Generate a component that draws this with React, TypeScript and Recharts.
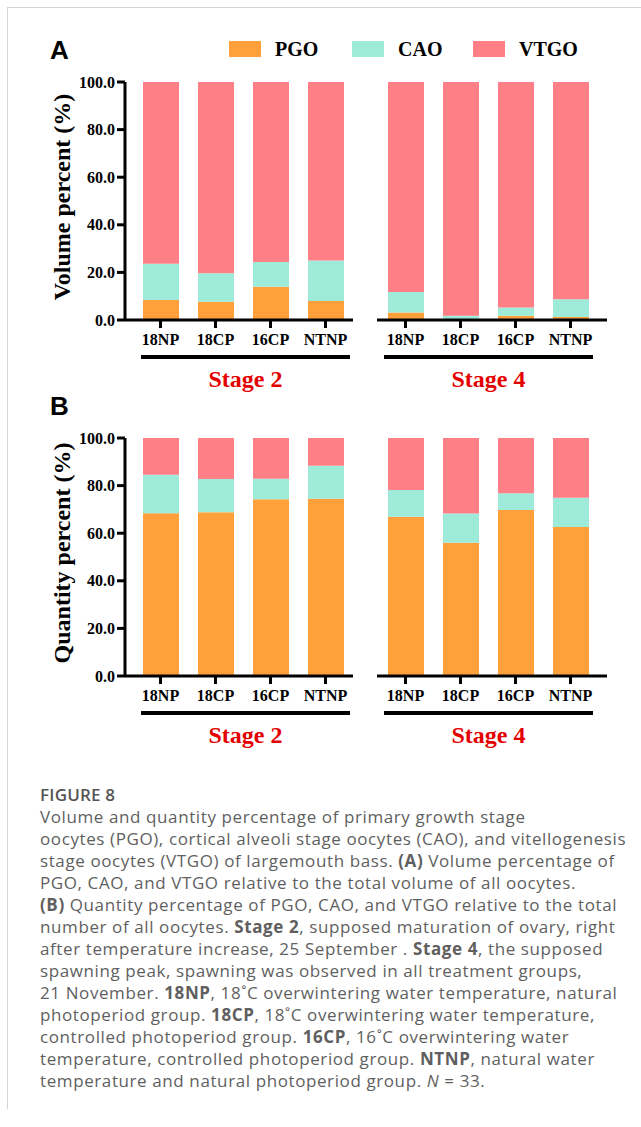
import React from "react"
import { BarChart, Bar, XAxis, YAxis } from "recharts"

const groups = ["18NP", "18CP", "16CP", "NTNP"]
const seriesNames = ["PGO", "CAO", "VTGO"]
const seriesColors = ["#ffa03b", "#9debd8", "#ff7f86"]
const yTicks = [0, 20, 40, 60, 80, 100]
const stageNames = ["Stage 2", "Stage 4"]

// volume percent (panel A)
const volumeStage2PGO = [8.4, 7.7, 14.0, 8.0]
const volumeStage2CAO = [15.2, 11.9, 10.4, 17.0]
const volumeStage2VTGO = [76.4, 80.4, 75.6, 75.0]
const volumeStage4PGO = [3.1, 0.3, 1.8, 1.3]
const volumeStage4CAO = [8.7, 1.5, 3.4, 7.4]
const volumeStage4VTGO = [88.2, 98.2, 94.8, 91.3]

// quantity percent (panel B)
const quantityStage2PGO = [68.4, 68.8, 74.3, 74.5]
const quantityStage2CAO = [16.2, 14.0, 8.6, 13.8]
const quantityStage2VTGO = [15.4, 17.2, 17.1, 11.7]
const quantityStage4PGO = [66.9, 56.0, 69.8, 62.6]
const quantityStage4CAO = [11.3, 12.3, 7.0, 12.3]
const quantityStage4VTGO = [21.8, 31.7, 23.2, 25.1]

const makeRows = (pgo: number[], cao: number[], vtgo: number[]) =>
  groups.map((g, i) => ({ group: g, PGO: pgo[i], CAO: cao[i], VTGO: vtgo[i] }))

const serif = "'Liberation Serif', 'Times New Roman', serif"
const axisStroke = { stroke: "#000", strokeWidth: 3 }
const tickFont = { fontFamily: serif, fontWeight: 700, fontSize: 16, fill: "#000" }

type StageProps = {
  rows: any[]
  showY: boolean
  left: number
  top: number
}

function StageChart({ rows, showY, left, top }: StageProps) {
  const width = showY ? 320 : 245
  const margin = showY
    ? { top: 12, right: 7, left: 0, bottom: 0 }
    : { top: 12, right: 8, left: 7, bottom: 0 }
  const padding = showY ? { left: 8, right: 0 } : { left: 1, right: 9 }
  return (
    <div style={{ position: "absolute", left, top }}>
      <BarChart width={width} height={280} data={rows} margin={margin} barSize={36}>
        <XAxis
          dataKey="group"
          interval={0}
          height={30}
          padding={padding}
          axisLine={axisStroke}
          tickLine={axisStroke}
          tickSize={8}
          tickMargin={6}
          tick={tickFont}
        />
        <YAxis
          hide={!showY}
          width={85}
          domain={[0, 100]}
          allowDataOverflow
          ticks={yTicks}
          tickFormatter={(v: number) => v.toFixed(1)}
          axisLine={axisStroke}
          tickLine={axisStroke}
          tickSize={8}
          tickMargin={2}
          tick={tickFont}
        />
        {seriesNames.map((s, i) => (
          <Bar key={s} dataKey={s} stackId="a" fill={seriesColors[i]} isAnimationActive={false} />
        ))}
      </BarChart>
    </div>
  )
}

function Panel({
  letter,
  yLabel,
  plotTop,
  stage2,
  stage4,
}: {
  letter: string
  yLabel: string
  plotTop: number
  stage2: any[]
  stage4: any[]
}) {
  const lineY = plotTop + 275
  return (
    <>
      <div
        style={{
          position: "absolute",
          left: 50,
          top: plotTop - 45,
          fontFamily: "'Liberation Sans', Arial, sans-serif",
          fontWeight: 700,
          fontSize: 26,
          lineHeight: "26px",
        }}
      >
        {letter}
      </div>
      <div
        style={{
          position: "absolute",
          left: 62 - 130,
          top: plotTop + 115 - 14,
          width: 260,
          height: 28,
          lineHeight: "28px",
          textAlign: "center",
          transform: "rotate(-90deg)",
          fontFamily: serif,
          fontWeight: 700,
          fontSize: 24,
          whiteSpace: "nowrap",
        }}
      >
        {yLabel}
      </div>
      <StageChart rows={stage2} showY left={40} top={plotTop - 12} />
      <StageChart rows={stage4} showY={false} left={370} top={plotTop - 12} />
      {[
        { x: 141, w: 209 },
        { x: 384, w: 209 },
      ].map((u, i) => (
        <React.Fragment key={i}>
          <div
            style={{
              position: "absolute",
              left: u.x,
              top: lineY - 2,
              width: u.w,
              height: 4,
              background: "#000",
            }}
          />
          <div
            style={{
              position: "absolute",
              left: u.x,
              width: u.w,
              top: lineY + 10,
              textAlign: "center",
              fontFamily: serif,
              fontWeight: 700,
              fontSize: 24,
              lineHeight: "24px",
              color: "#e50000",
            }}
          >
            {stageNames[i]}
          </div>
        </React.Fragment>
      ))}
    </>
  )
}

const captionLines: React.ReactNode[] = [
  "Volume and quantity percentage of primary growth stage",
  "oocytes (PGO), cortical alveoli stage oocytes (CAO), and vitellogenesis",
  <>stage oocytes (VTGO) of largemouth bass. <b>(A)</b> Volume percentage of</>,
  "PGO, CAO, and VTGO relative to the total volume of all oocytes.",
  <><b>(B)</b> Quantity percentage of PGO, CAO, and VTGO relative to the total</>,
  <>number of all oocytes. <b>Stage 2</b>, supposed maturation of ovary, right</>,
  <>after temperature increase, 25 September . <b>Stage 4</b>, the supposed</>,
  "spawning peak, spawning was observed in all treatment groups,",
  <>21 November. <b>18NP</b>, 18˚C overwintering water temperature, natural</>,
  <>photoperiod group. <b>18CP</b>, 18˚C overwintering water temperature,</>,
  <>controlled photoperiod group. <b>16CP</b>, 16˚C overwintering water</>,
  <>temperature, controlled photoperiod group. <b>NTNP</b>, natural water</>,
  <>temperature and natural photoperiod group. <i>N</i> = 33.</>,
]

export default function App() {
  return (
    <div style={{ position: "absolute", left: 0, top: 0, width: 641, height: 1127, background: "#fff", overflow: "hidden" }}>
      <div
        style={{
          position: "absolute",
          left: 7,
          top: 7,
          width: 700,
          height: 1101,
          borderTop: "1px solid #d4d4d4",
          borderLeft: "1px solid #d4d4d4",
        }}
      />
      {/* legend */}
      {seriesNames.map((s, i) => (
        <div
          key={s}
          style={{
            position: "absolute",
            left: [229, 352, 473][i],
            top: 39,
            display: "flex",
            alignItems: "center",
            height: 20,
          }}
        >
          <div style={{ width: 32, height: 16, background: seriesColors[i] }} />
          <span
            style={{
              marginLeft: 14,
              fontFamily: serif,
              fontWeight: 700,
              fontSize: 20,
            }}
          >
            {s}
          </span>
        </div>
      ))}
      <Panel
        letter="A"
        yLabel="Volume percent (%)"
        plotTop={82}
        stage2={makeRows(volumeStage2PGO, volumeStage2CAO, volumeStage2VTGO)}
        stage4={makeRows(volumeStage4PGO, volumeStage4CAO, volumeStage4VTGO)}
      />
      <Panel
        letter="B"
        yLabel="Quantity percent (%)"
        plotTop={438}
        stage2={makeRows(quantityStage2PGO, quantityStage2CAO, quantityStage2VTGO)}
        stage4={makeRows(quantityStage4PGO, quantityStage4CAO, quantityStage4VTGO)}
      />
      {/* caption */}
      <div
        style={{
          position: "absolute",
          left: 40,
          top: 784,
          fontFamily: "'Open Sans', sans-serif",
          fontSize: 17,
          letterSpacing: 0.6,
          lineHeight: "22px",
          color: "#5f5f5f",
          whiteSpace: "nowrap",
        }}
      >
        <div style={{ fontWeight: 600, color: "#555", letterSpacing: 0.2 }}>FIGURE 8</div>
        {captionLines.map((l, i) => (
          <div key={i}>{l}</div>
        ))}
      </div>
    </div>
  )
}
